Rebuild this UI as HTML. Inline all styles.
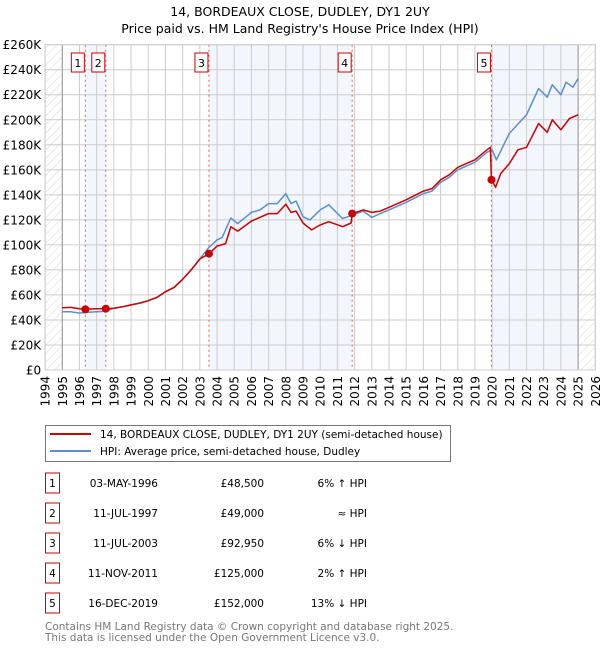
<!DOCTYPE html>
<html><head><meta charset="utf-8"><style>
body{margin:0;background:#fff;font-family:"DejaVu Sans","Liberation Sans",sans-serif;}
svg text{font-family:"DejaVu Sans","Liberation Sans",sans-serif;}
</style></head><body>
<svg id="c" width="600" height="650" xmlns="http://www.w3.org/2000/svg">
<defs><pattern id="hatch" width="6" height="6" patternUnits="userSpaceOnUse" patternTransform="rotate(45)"><line x1="0" y1="0" x2="0" y2="6" stroke="#ccc" stroke-width="0.8"/></pattern></defs>
<text x="300" y="16" text-anchor="middle" font-size="12.5">14, BORDEAUX CLOSE, DUDLEY, DY1 2UY</text>
<text x="300" y="33" text-anchor="middle" font-size="12.5">Price paid vs. HM Land Registry's House Price Index (HPI)</text>
<g id="plot"></g>
<g>
<rect x="45.5" y="425.5" width="405" height="36" fill="#fff" stroke="#777"/>
<line x1="50" y1="434" x2="91" y2="434" stroke="#cc0000" stroke-width="2"/>
<text x="100" y="438" font-size="10.5">14, BORDEAUX CLOSE, DUDLEY, DY1 2UY (semi-detached house)</text>
<line x1="50" y1="451" x2="91" y2="451" stroke="#5b8fd0" stroke-width="2"/>
<text x="100" y="455" font-size="10.5">HPI: Average price, semi-detached house, Dudley</text>
</g>
<g id="table"></g>
<text x="45" y="630" font-size="10.5" fill="#777">Contains HM Land Registry data © Crown copyright and database right 2025.</text>
<text x="45" y="641" font-size="10.5" fill="#777">This data is licensed under the Open Government Licence v3.0.</text>
</svg>
<script>
const hpiYears=[1995,1995.5,1996,1996.4,1997,1997.5,1998,1998.5,1999,1999.5,2000,2000.5,2001,2001.5,2002,2002.5,2003,2003.5,2004,2004.3,2004.8,2005.2,2006,2006.5,2007,2007.5,2008,2008.3,2008.6,2009,2009.4,2010,2010.5,2011.3,2011.9,2012.5,2013,2013.5,2014,2015,2016,2016.5,2017,2017.5,2018,2019,2019.7,2020,2020.25,2021,2022,2022.7,2023.2,2023.5,2024,2024.3,2024.7,2025];
const hpiValues=[46.6,46.5,45.5,46,46.5,47,49.3,50.5,52,53.5,55.4,58,62.6,66,72.5,80,88.7,97.5,104,106,121.5,117,126,128,133,133,141,133,135,122.5,120,128,132,121,124,127,122,125,128,134,141,143,150,154,160,166,174,176,168,189,204,225,218,228,220,230,226,233];
const paidYears=[1995,1995.5,1996,1996.34,1997,1997.53,1998,1998.5,1999,1999.5,2000,2000.5,2001,2001.5,2002,2002.5,2003,2003.53,2004,2004.5,2004.8,2005.2,2006,2007,2007.5,2008,2008.3,2008.6,2009,2009.5,2010,2010.5,2011.3,2011.8,2011.86,2012.5,2013,2013.5,2014,2015,2016,2016.5,2017,2017.5,2018,2019,2019.7,2019.9,2019.96,2020.2,2020.5,2021,2021.5,2022,2022.7,2023.2,2023.5,2024,2024.5,2025];
const paidValues=[49.8,50,49,48.5,49,49,49.3,50.5,52,53.5,55.4,58,62.6,66,72.5,80,88.7,92.95,99,101,114.5,111,119,125,125,132.5,126,127,117.5,112,116,118.5,114.5,117.5,125,128,126,127,130,136,143,145,152,156,162,168,176,178,152,146,157,165,176,178,197,190,200,192,201,204];
const saleYears=[1996.34,1997.53,2003.53,2011.86,2019.96];
const salePrices=[48.5,49,92.95,125,152];
const saleLabels=["1","2","3","4","5"];
const saleDates=["03-MAY-1996","11-JUL-1997","11-JUL-2003","11-NOV-2011","16-DEC-2019"];
const salePriceText=["£48,500","£49,000","£92,950","£125,000","£152,000"];
const saleHpiText=["6% ↑ HPI","≈ HPI","6% ↓ HPI","2% ↑ HPI","13% ↓ HPI"];
const yTicks=[0,20,40,60,80,100,120,140,160,180,200,220,240,260];
const xTicks=[1994,1995,1996,1997,1998,1999,2000,2001,2002,2003,2004,2005,2006,2007,2008,2009,2010,2011,2012,2013,2014,2015,2016,2017,2018,2019,2020,2021,2022,2023,2024,2025,2026];

const NS="http://www.w3.org/2000/svg";
const X0=45.1,X1=595.3,Y0=370,Y1=44.7;
const xs=y=>X0+(y-1994)/32*(X1-X0);
const ys=v=>Y0-v/260*(Y0-Y1);
const plot=document.getElementById('plot');
function mk(t,a,p){const e=document.createElementNS(NS,t);for(const k in a)e.setAttribute(k,a[k]);(p||plot).appendChild(e);return e;}
[[0,1],[2,3],[4,null]].forEach((b,i)=>{
 const a=xs(saleYears[b[0]]),c=b[1]===null?xs(2025):xs(saleYears[b[1]]);
 const r=mk('rect',{x:a,y:Y1,width:c-a,height:Y0-Y1,fill:'#f3f6fd'});
 
 
});
let h=mk('rect',{x:X0,y:Y1,width:xs(1995)-X0,height:Y0-Y1,fill:'url(#hatch)'});


h=mk('rect',{x:xs(2025),y:Y1,width:X1-xs(2025),height:Y0-Y1,fill:'url(#hatch)'});


yTicks.forEach(v=>{
 const l=mk('line',{x1:X0,x2:X1,y1:ys(v),y2:ys(v),stroke:'#ccc','stroke-width':1});
 
 
 const t=mk('text',{x:X0-4,y:ys(v)+4.5,'text-anchor':'end','font-size':12});
 t.textContent='£'+(v===0?'0':v+'K');
 
 
});
xTicks.forEach(y=>{
 const l=mk('line',{x1:xs(y),x2:xs(y),y1:Y1,y2:Y0,stroke:'#ccc','stroke-width':1});
 
 
 const t=mk('text',{x:xs(y)+4.5,y:Y0+6,'text-anchor':'end','font-size':12,transform:`rotate(-90 ${xs(y)+4.5} ${Y0+6})`});
 t.textContent=y;
 
 
});
let ax=mk('line',{x1:xs(1995),x2:xs(1995),y1:Y1,y2:Y0,stroke:'#999'});


ax=mk('line',{x1:xs(2025),x2:xs(2025),y1:Y1,y2:Y0,stroke:'#999'});


saleYears.forEach((y,i)=>{
 const l=mk('line',{x1:xs(y),x2:xs(y),y1:Y1,y2:Y0,stroke:'#e06060','stroke-width':1,'stroke-dasharray':'2,3'});
 
 
 const r=mk('rect',{x:xs(y)-14,y:53,width:13,height:19,fill:'#fff',stroke:'#cc0000'});
 
 
 const t=mk('text',{x:xs(y)-7.5,y:67,'text-anchor':'middle','font-size':11});
 t.textContent=saleLabels[i];
 
 
});
function line(xa,va,col,name){
 const d=xa.map((x,i)=>(i?'L':'M')+xs(x).toFixed(1)+','+ys(va[i]).toFixed(1)).join('');
 const p=mk('path',{d:d,fill:'none',stroke:col,'stroke-width':1.5,'stroke-linejoin':'round'});
 
 
}
line(hpiYears,hpiValues,'#5b8fd0','hpi-line');
line(paidYears,paidValues,'#cc0000','price-paid-line');
saleYears.forEach((y,i)=>{
 const c=mk('circle',{cx:xs(y),cy:ys(salePrices[i]),r:4,fill:'#cc0000'});
 
 
});
mk('rect',{x:X0,y:Y1,width:X1-X0,height:Y0-Y1,fill:'none',stroke:'#ccc'});
const tb=document.getElementById('table');
saleLabels.forEach((s,i)=>{
 const cy=483+i*30;
 const r=mk('rect',{x:45.5,y:cy-10,width:14,height:20,fill:'#fff',stroke:'#cc0000'},tb);
 
 
 const cells=[[52.5,'middle',s,'table-row-number'],[158,'end',saleDates[i],'table-date'],[264,'end',salePriceText[i],'table-price'],[367,'end',saleHpiText[i],'table-hpi-diff']];
 cells.forEach(c=>{
  const t=mk('text',{x:c[0],y:cy+4,'text-anchor':c[1],'font-size':10.5},tb);
  t.textContent=c[2];
  
  
 });
});
</script>
</body></html>
